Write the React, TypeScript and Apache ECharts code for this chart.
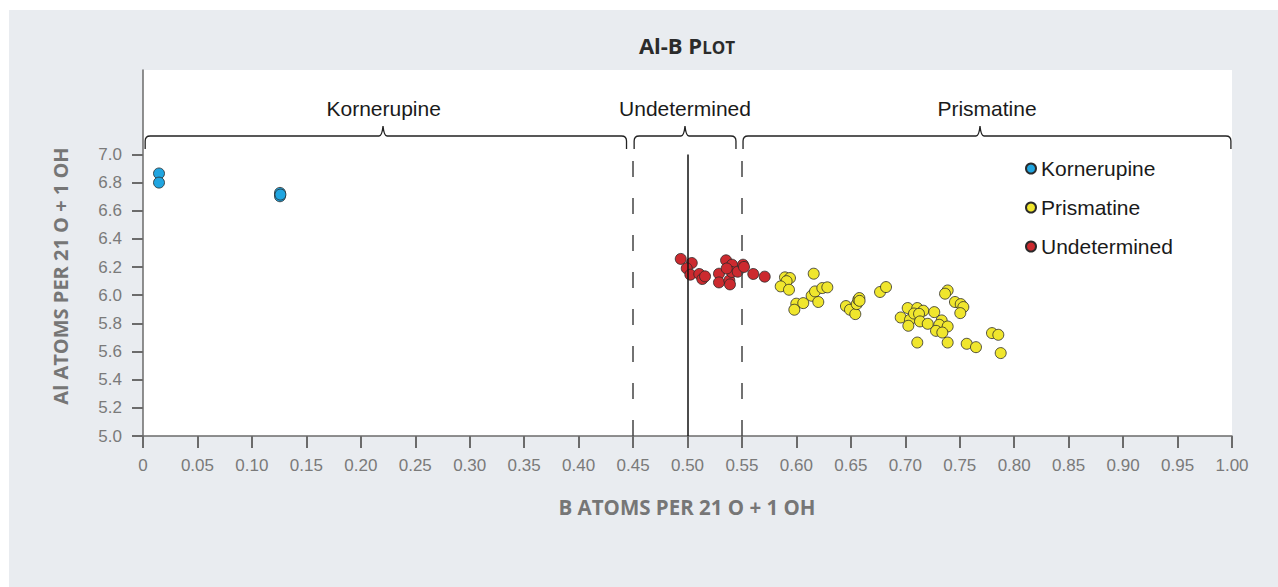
import React, { useEffect, useRef } from "react";
import * as echarts from "echarts";

// ---- data ----
const yTickValues = [5.0, 5.2, 5.4, 5.6, 5.8, 6.0, 6.2, 6.4, 6.6, 6.8, 7.0];

const kornerupine: [number, number][] = [
  [0.0147, 6.865], [0.0147, 6.8], [0.1258, 6.727], [0.1258, 6.703], [0.1262, 6.715],
];

const prismatine: [number, number][] = [
  [0.5895, 6.127], [0.5941, 6.122], [0.591, 6.1], [0.5856, 6.063], [0.5932, 6.039],
  [0.6159, 6.153], [0.5999, 5.94], [0.6063, 5.944], [0.5981, 5.897], [0.614, 5.996],
  [0.6171, 6.027], [0.6201, 5.952], [0.6238, 6.051], [0.6284, 6.056], [0.6455, 5.923],
  [0.6492, 5.897], [0.6541, 5.866], [0.6554, 5.937], [0.6568, 5.968], [0.6578, 5.98],
  [0.658, 5.96], [0.6768, 6.023], [0.6823, 6.058], [0.7389, 6.034], [0.7365, 6.011],
  [0.7456, 5.952], [0.7509, 5.937], [0.7533, 5.916], [0.7505, 5.873], [0.7022, 5.909],
  [0.711, 5.909], [0.7165, 5.89], [0.7266, 5.88], [0.6958, 5.842], [0.7043, 5.826],
  [0.708, 5.87], [0.7126, 5.868], [0.7135, 5.814], [0.7206, 5.797], [0.7028, 5.783],
  [0.7334, 5.821], [0.7312, 5.79], [0.7389, 5.778], [0.7282, 5.747], [0.734, 5.735],
  [0.711, 5.664], [0.7389, 5.664], [0.7564, 5.655], [0.7649, 5.631], [0.7796, 5.731],
  [0.7854, 5.719], [0.7876, 5.589],
];

const undetermined: [number, number][] = [
  [0.4938, 6.258], [0.5039, 6.229], [0.4993, 6.191], [0.5026, 6.146], [0.5108, 6.151],
  [0.5136, 6.115], [0.5161, 6.134], [0.5354, 6.248], [0.5409, 6.217], [0.5289, 6.153],
  [0.5289, 6.091], [0.5384, 6.105], [0.539, 6.077], [0.5406, 6.165], [0.5461, 6.167],
  [0.551, 6.217], [0.5519, 6.201], [0.5604, 6.151], [0.5709, 6.132], [0.536, 6.19],
];

const regionNames = ["Kornerupine", "Undetermined", "Prismatine"];
const regionStart = [0.002, 0.451, 0.551];
const regionEnd = [0.444, 0.5445, 0.999];
const regionPeak = [0.2204, 0.4977, 0.7686];
const regionLabelX = [0.221, 0.4977, 0.775];

const boundaryX = [0.45, 0.5, 0.55];
const boundaryDashed = [true, false, true];
const boundaryTop = [7.04, 7.0, 7.04];

const legendNames = ["Kornerupine", "Prismatine", "Undetermined"];

const SANS = "'Liberation Sans', Arial, Helvetica, sans-serif";
const HEAD = "'Open Sans', 'Lato', sans-serif";

export default function App() {
  const ref = useRef<HTMLDivElement>(null);

  useEffect(() => {
    if (!ref.current) return;
    const chart = echarts.init(ref.current, null, { renderer: "svg" });

    const axisColor = "#6b6b6b";
    const labelColor = "#7a7a7a";

    const markData = boundaryX.map((x, i) => [
      {
        coord: [x, 5.0],
        lineStyle: {
          type: boundaryDashed[i] ? [16, 21] : "solid",
          color: boundaryDashed[i] ? "#444" : "#111",
          width: 1.5,
        },
      },
      { coord: [x, boundaryTop[i]] },
    ]);

    const pointStyle = (color: string) => ({
      color,
      borderColor: "#2a2a2a",
      borderWidth: 0.8,
      opacity: 1,
    });

    const option: any = {
      animation: false,
      backgroundColor: "transparent",
      grid: {
        left: 143,
        right: 46,
        top: 70,
        bottom: 151,
        show: true,
        backgroundColor: "#ffffff",
        borderWidth: 0,
      },
      xAxis: {
        type: "value",
        min: 0,
        max: 1,
        interval: 0.05,
        axisLine: { show: true, onZero: false, lineStyle: { color: axisColor, width: 1.5 } },
        axisTick: { show: true, length: 12, lineStyle: { color: axisColor, width: 2 } },
        axisLabel: {
          margin: 21,
          color: labelColor,
          fontSize: 17,
          fontFamily: SANS,
          interval: 0,
          showMaxLabel: true,
          showMinLabel: true,
          formatter: (v: number) => (v === 0 ? "0" : v.toFixed(2)),
        },
        splitLine: { show: false },
      },
      yAxis: {
        type: "value",
        min: 5,
        max: 7.6,
        axisLine: { show: true, onZero: false, lineStyle: { color: axisColor, width: 1.5 } },
        axisTick: {
          show: true,
          length: 11,
          customValues: yTickValues,
          lineStyle: { color: axisColor, width: 2 },
        },
        axisLabel: {
          customValues: yTickValues,
          margin: 21,
          color: labelColor,
          fontSize: 17,
          fontFamily: SANS,
          formatter: (v: number) => v.toFixed(1),
        },
        splitLine: { show: false },
      },
      legend: {
        data: legendNames,
        orient: "vertical",
        left: 1020,
        top: 153,
        itemWidth: 10,
        itemHeight: 10,
        itemGap: 18,
        icon: "circle",
        textStyle: { fontSize: 21, color: "#1a1a1a", fontFamily: SANS },
      },
      series: [
        {
          name: "boundaries",
          type: "scatter",
          data: [],
          z: 1,
          silent: true,
          markLine: {
            silent: true,
            symbol: ["none", "none"],
            label: { show: false },
            data: markData,
          },
        },
        {
          name: "Kornerupine",
          type: "scatter",
          symbol: "circle",
          symbolSize: 11,
          itemStyle: pointStyle("#20a5e0"),
          data: kornerupine,
        },
        {
          name: "Prismatine",
          type: "scatter",
          symbol: "circle",
          symbolSize: 11,
          itemStyle: pointStyle("#f0e62d"),
          data: prismatine,
        },
        {
          name: "Undetermined",
          type: "scatter",
          symbol: "circle",
          symbolSize: 11,
          itemStyle: pointStyle("#cc2a2f"),
          data: undetermined,
        },
      ],
    };

    chart.setOption(option);

    // Braces above the plot, positioned through the x axis scale
    const yH = 136;
    const yEnd = 149;
    const yPeak = 126;
    const r = 5;
    const w = 4;
    const braceEls: any[] = [];
    const labelEls: any[] = [];
    regionNames.forEach((name, i) => {
      const x1 = chart.convertToPixel({ xAxisIndex: 0 }, regionStart[i]) as number;
      const x2 = chart.convertToPixel({ xAxisIndex: 0 }, regionEnd[i]) as number;
      const xp = chart.convertToPixel({ xAxisIndex: 0 }, regionPeak[i]) as number;
      const xl = chart.convertToPixel({ xAxisIndex: 0 }, regionLabelX[i]) as number;
      const d =
        `M ${x1} ${yEnd} L ${x1} ${yH + r} Q ${x1} ${yH} ${x1 + r} ${yH} ` +
        `L ${xp - w} ${yH} Q ${xp - 1} ${yH} ${xp} ${yPeak} Q ${xp + 1} ${yH} ${xp + w} ${yH} ` +
        `L ${x2 - r} ${yH} Q ${x2} ${yH} ${x2} ${yH + r} L ${x2} ${yEnd}`;
      const shapeName = "regionBrace" + i;
      echarts.graphic.registerShape(shapeName, echarts.graphic.extendPath(d, {}));
      braceEls.push({
        type: shapeName,
        x: 0,
        y: 0,
        silent: true,
        z: 10,
        style: { fill: "none", stroke: "#222", lineWidth: 1.3 },
      });
      labelEls.push({
        type: "text",
        x: xl,
        y: 108,
        silent: true,
        z: 10,
        style: {
          text: name,
          fill: "#1a1a1a",
          fontSize: 21,
          fontFamily: SANS,
          align: "center",
          verticalAlign: "middle",
        },
      });
    });

    chart.setOption({
      graphic: [
        {
          type: "rect",
          z: -10,
          silent: true,
          shape: { x: 9, y: 10, width: 1269, height: 577 },
          style: { fill: "#e9ecf0" },
        },
        {
          type: "text",
          x: 687,
          y: 45,
          silent: true,
          style: {
            text: "{a|Al-B P}{b|LOT}",
            align: "center",
            verticalAlign: "middle",
            rich: {
              a: { fontSize: 22, fontWeight: "bold", fontFamily: HEAD, fill: "#2b2b2b", verticalAlign: "bottom" },
              b: { fontSize: 17, fontWeight: "bold", fontFamily: HEAD, fill: "#2b2b2b", verticalAlign: "bottom" },
            },
          },
        },
        {
          type: "text",
          x: 687,
          y: 507,
          silent: true,
          style: {
            text: "B ATOMS PER 21 O + 1 OH",
            fill: "#767676",
            fontSize: 20.5,
            fontWeight: "bold",
            fontFamily: HEAD,
            align: "center",
            verticalAlign: "middle",
          },
        },
        {
          type: "text",
          x: 60,
          y: 276,
          rotation: Math.PI / 2,
          silent: true,
          style: {
            text: "Al ATOMS PER 21 O + 1 OH",
            fill: "#767676",
            fontSize: 20,
            fontWeight: "bold",
            fontFamily: HEAD,
            align: "center",
            verticalAlign: "middle",
          },
        },
        ...braceEls,
        ...labelEls,
      ],
    });

    return () => chart.dispose();
  }, []);

  return (
    <div
      ref={ref}
      style={{ position: "absolute", left: 0, top: 0, width: 1278, height: 587 }}
    />
  );
}
